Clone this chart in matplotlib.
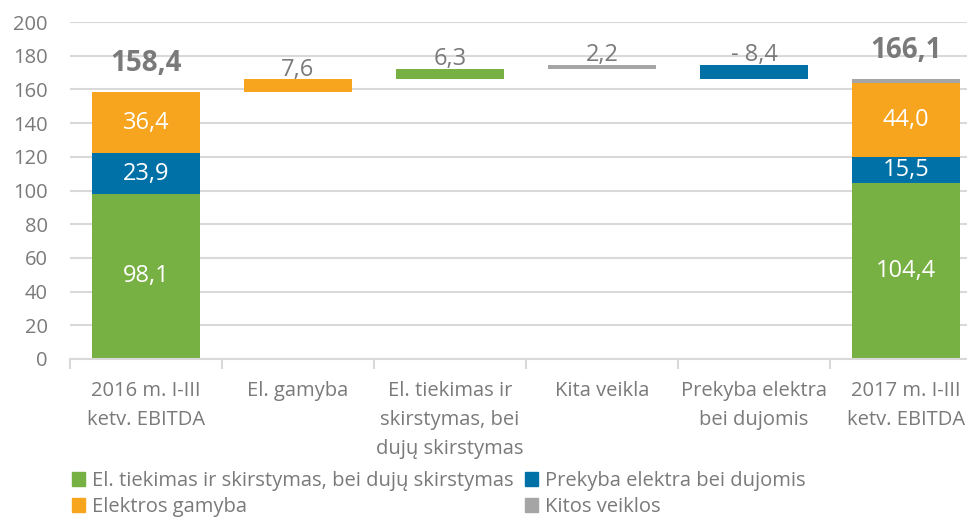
import matplotlib
matplotlib.use("Agg")
import matplotlib.pyplot as plt
from matplotlib.patches import Patch
from matplotlib.ticker import FixedLocator

plt.rcParams['font.family'] = ['Open Sans', 'DejaVu Sans']

categories = ["2016 m. I-III\nketv. EBITDA", "El. gamyba",
              "El. tiekimas ir\nskirstymas, bei\ndujų skirstymas",
              "Kita veikla", "Prekyba elektra\nbei dujomis",
              "2017 m. I-III\nketv. EBITDA"]
segment_names = ["El. tiekimas ir skirstymas, bei dujų skirstymas",
                 "Prekyba elektra bei dujomis", "Elektros gamyba", "Kitos veiklos"]
colors = ["#78B143", "#0071A6", "#F7A51E", "#A5A5A5"]
start_values = [98.1, 23.9, 36.4, 0.0]     # 2016 stack
end_values = [104.4, 15.5, 44.0, 2.2]      # 2017 stack
change_values = [7.6, 6.3, 2.2, -8.4]
change_segment = [2, 0, 3, 1]              # colour index of each change bar
yticks = [0, 20, 40, 60, 80, 100, 120, 140, 160, 180, 200]

text_gray = "#7A7A7A"
W, H = 967, 520
fig = plt.figure(figsize=(W / 100, H / 100), dpi=100)
ax = fig.add_axes([70 / W, 1 - 359 / H, 912 / W, (359 - 22) / H])

bw = 0.71

def stacked(x, vals, total_label):
    bottom = 0
    for i, v in enumerate(vals):
        if v <= 0:
            continue
        ax.bar(x, v, bw, bottom=bottom, color=colors[i], zorder=3)
        if v > 5:
            ax.text(x, bottom + v / 2, f"{v:.1f}".replace(".", ","), ha="center",
                    va="center", color="white", fontsize=17, zorder=4)
        bottom += v
    ax.annotate(f"{total_label:.1f}".replace(".", ","), (x, bottom),
                xytext=(0, 15), textcoords="offset points", ha="center",
                va="baseline", fontsize=20, fontweight="bold", color=text_gray)
    return bottom

level = stacked(0, start_values, sum(start_values))
for j, (d, ci) in enumerate(zip(change_values, change_segment)):
    x = j + 1
    lo = level if d >= 0 else level + d
    ax.bar(x, abs(d), bw, bottom=lo, color=colors[ci], zorder=3)
    top = lo + abs(d)
    lab = f"{d:.1f}".replace(".", ",")
    if d < 0:
        lab = "- " + lab[1:]
    ax.annotate(lab, (x, top), xytext=(0, 2.5), textcoords="offset points",
                ha="center", va="baseline", fontsize=17, color=text_gray, zorder=4)
    level += d
stacked(5, end_values, sum(end_values))

ax.set_xlim(-0.5, 5.5)
ax.set_ylim(0, 200)
ax.set_yticks(yticks)
ax.yaxis.grid(True, color="#D9D9D9", linewidth=1.5, zorder=0)
ax.set_axisbelow(True)
for s in ["top", "right", "left"]:
    ax.spines[s].set_visible(False)
ax.spines["bottom"].set_color("#D9D9D9")
ax.spines["bottom"].set_linewidth(1.5)
ax.spines["bottom"].set_zorder(5)

ax.set_xticks(range(len(categories)))
ax.set_xticklabels(categories, linespacing=1.6)
ax.xaxis.set_minor_locator(FixedLocator([i - 0.5 for i in range(len(categories) + 1)]))
ax.tick_params(axis="x", which="major", length=0, pad=16, labelsize=14.5, labelcolor=text_gray)
ax.tick_params(axis="x", which="minor", length=7, width=1.5, color="#D9D9D9")
ax.tick_params(axis="y", length=0, pad=16, labelsize=14.5, labelcolor=text_gray)
for t in ax.get_xticklabels():
    t.set_verticalalignment("top")

handles = [Patch(color=colors[i], label=segment_names[i]) for i in [0, 2, 1, 3]]
fig.legend(handles=handles, loc="upper left", bbox_to_anchor=(72 / W, 1 - 471 / H),
           ncol=2, frameon=False, fontsize=14.5, labelcolor=text_gray,
           handlelength=0.65, handleheight=0.65, handletextpad=0.35,
           columnspacing=0.55, labelspacing=0.3, borderpad=0, borderaxespad=0)

fig.savefig("out.png", dpi=100)
